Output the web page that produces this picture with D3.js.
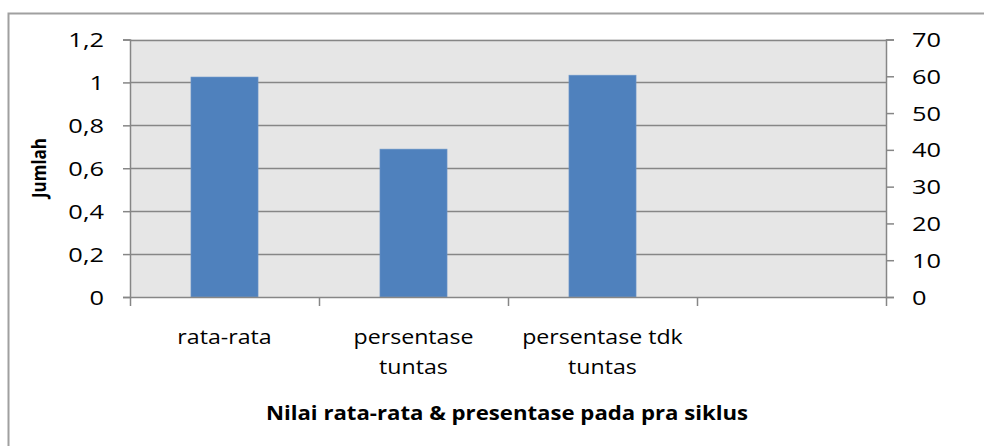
<!DOCTYPE html>
<html>
<head>
<meta charset="utf-8">
<script src="https://cdn.jsdelivr.net/npm/d3@7"></script>
<style>
  html, body { margin: 0; padding: 0; background: #fff; }
  svg { display: block; }
  text { font-family: "Open Sans", Lato, sans-serif; fill: #000; }
</style>
</head>
<body>
<svg id="chart" width="984" height="446"></svg>
<script>
// ---- data ----
const categories = ["rata-rata", "persentase tuntas", "persentase tdk tuntas", ""];
const categoryLabels = [["rata-rata"], ["persentase", "tuntas"], ["persentase tdk", "tuntas"], [""]];
const values = [59.8, 40.2, 60.3, null];          // plotted on the secondary (right) axis
const leftTicks = [0, 0.2, 0.4, 0.6, 0.8, 1, 1.2];
const rightTicks = [0, 10, 20, 30, 40, 50, 60, 70];
const yTitle = "Jumlah";
const xTitle = "Nilai rata-rata & presentase pada pra siklus";

// ---- layout ----
const W = 984, H = 446;
const plot = { left: 130, right: 886, top: 39.5, bottom: 297 };
const SX = 1.17;   // horizontal stretch of text seen in the reference
const fmt = d => String(d).replace(".", ",");

const svg = d3.select("#chart");

// outer chart border
svg.append("rect")
  .attr("x", 8.5).attr("y", 13.5)
  .attr("width", W + 10).attr("height", H + 10)
  .attr("fill", "#fff").attr("stroke", "#a0a0a0").attr("stroke-width", 2);

const x = d3.scaleBand().domain(categories.map((d, i) => i))
  .range([plot.left, plot.right]).paddingInner(0).paddingOuter(0);
const yL = d3.scaleLinear().domain([0, 1.2]).range([plot.bottom, plot.top]);
const yR = d3.scaleLinear().domain([0, 70]).range([plot.bottom, plot.top]);

// plot background
svg.append("rect")
  .attr("x", plot.left).attr("y", plot.top)
  .attr("width", plot.right - plot.left).attr("height", plot.bottom - plot.top)
  .attr("fill", "#e6e6e6");

const gridColor = "#868686";

// gridlines (primary axis)
svg.append("g").selectAll("line").data(leftTicks.filter(d => d > 0)).join("line")
  .attr("x1", plot.left).attr("x2", plot.right)
  .attr("y1", d => Math.round(yL(d)) + 0.5).attr("y2", d => Math.round(yL(d)) + 0.5)
  .attr("stroke", gridColor).attr("stroke-width", 1.5);

// bars
const barW = x.bandwidth() * 0.355;
svg.append("g").selectAll("rect").data(values.map((v, i) => ({ v, i })).filter(d => d.v != null)).join("rect")
  .attr("x", d => x(d.i) + (x.bandwidth() - barW) / 2)
  .attr("width", barW)
  .attr("y", d => yR(d.v))
  .attr("height", d => yR(0) - yR(d.v))
  .attr("fill", "#4f81bd")
  .attr("stroke", "#6f98c9").attr("stroke-width", 0.6);

// axes
const axisColor = "#868686";
function styleAxis(g) {
  g.selectAll("path.domain").attr("stroke", axisColor).attr("stroke-width", 1.5);
  g.selectAll(".tick line").attr("stroke", axisColor).attr("stroke-width", 1.5);
  g.selectAll(".tick text").remove();
}
const gL = svg.append("g").attr("transform", `translate(${plot.left},0)`)
  .call(d3.axisLeft(yL).tickValues(leftTicks).tickSize(7).tickSizeOuter(7));
styleAxis(gL);
const gR = svg.append("g").attr("transform", `translate(${plot.right},0)`)
  .call(d3.axisRight(yR).tickValues(rightTicks).tickSize(8).tickSizeOuter(8));
styleAxis(gR);
const xTickPos = d3.range(categories.length + 1).map(i => plot.left + i * x.step());
const gB = svg.append("g").attr("transform", `translate(0,${plot.bottom})`)
  .call(d3.axisBottom(d3.scaleLinear().domain([plot.left, plot.right]).range([plot.left, plot.right]))
    .tickValues(xTickPos).tickSize(9).tickSizeOuter(0));
styleAxis(gB);

// helper for stretched text
function txt(g, s, px, py, anchor, size, weight, sx) {
  return g.append("text")
    .attr("transform", `translate(${px},${py}) scale(${sx || SX},1)`)
    .attr("text-anchor", anchor)
    .attr("font-size", size)
    .attr("font-weight", weight || "normal")
    .text(s);
}

const labels = svg.append("g");
leftTicks.forEach(t => txt(labels, fmt(t), 104, yL(t) + 7.5, "end", 20.5, "normal", 1.24));
rightTicks.forEach(t => txt(labels, fmt(t), 912, yR(t) + 7.5, "start", 20.5, "normal", 1.24));
categoryLabels.forEach((lines, i) => {
  lines.forEach((l, j) => txt(labels, l, x(i) + x.bandwidth() / 2, 344 + j * 29.5, "middle", 19.8));
});
txt(labels, xTitle, 507, 420, "middle", 18.8, "bold", 1.18);

svg.append("text")
  .attr("transform", `translate(46,168) rotate(-90) scale(1,1.2)`)
  .attr("text-anchor", "middle")
  .attr("font-size", 17)
  .attr("font-weight", "bold")
  .text(yTitle);
</script>
</body>
</html>
